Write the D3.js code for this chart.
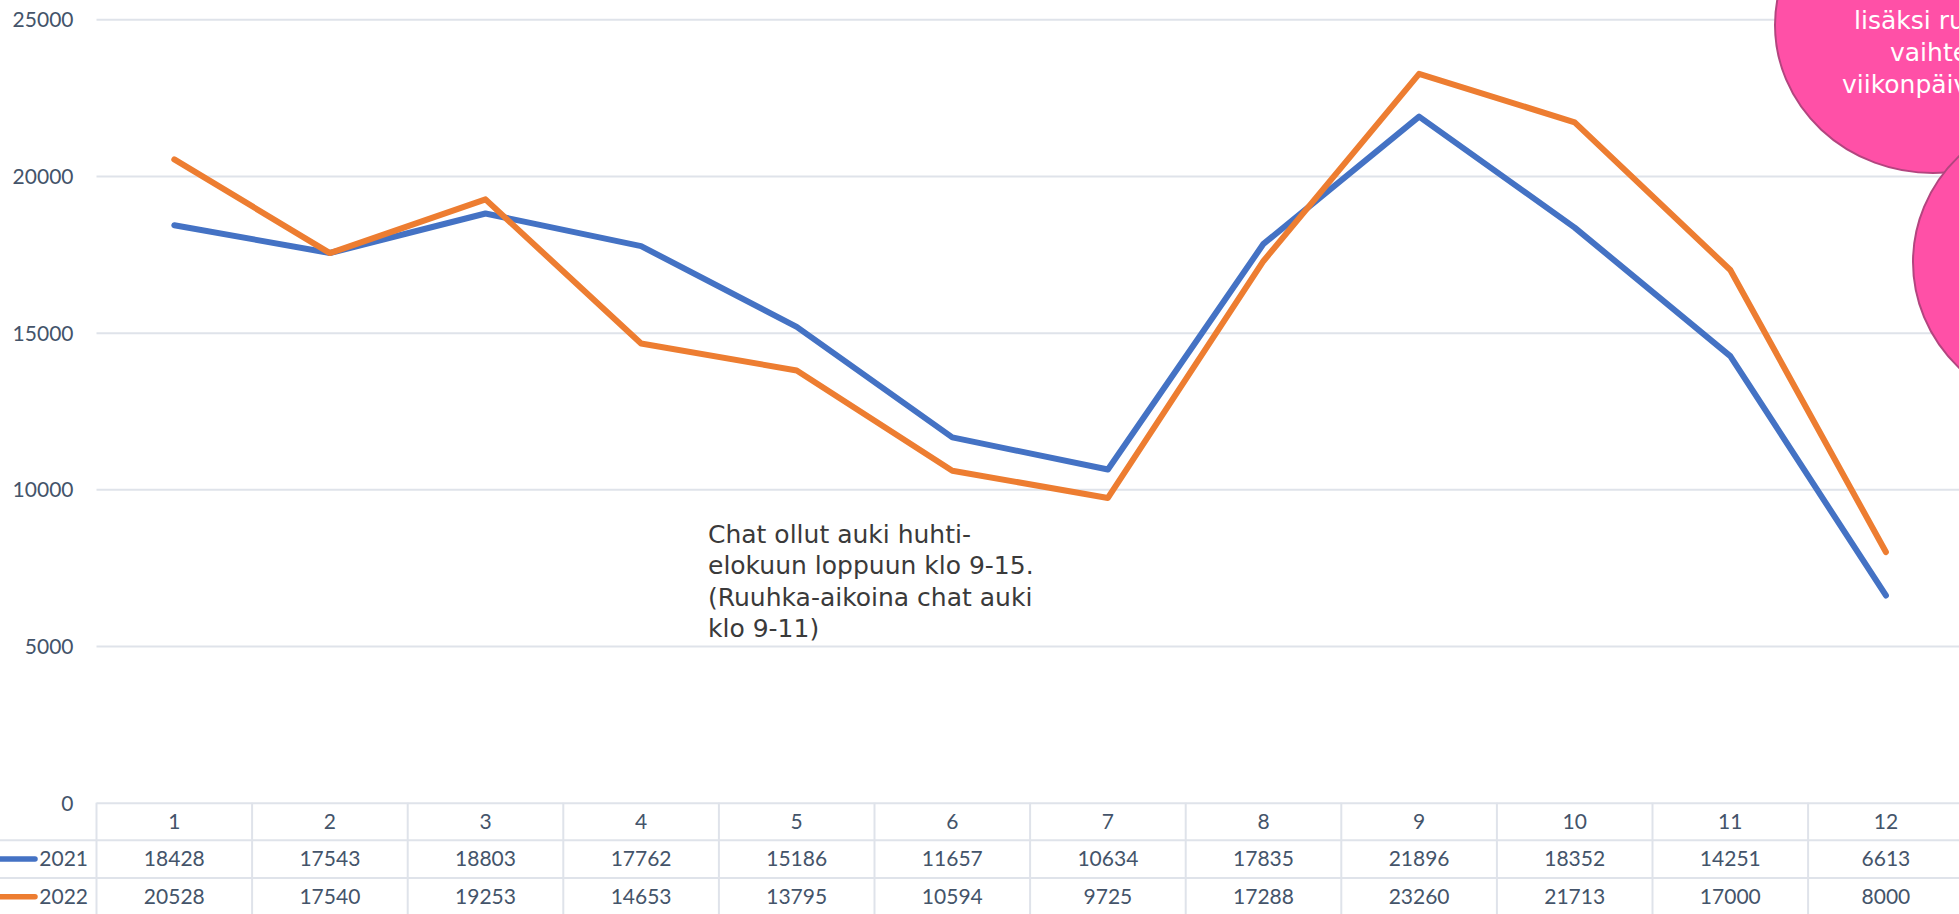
<!DOCTYPE html>
<html>
<head>
<meta charset="utf-8">
<script src="https://cdn.jsdelivr.net/npm/d3@7"></script>
<style>
  body { margin: 0; background: #fff; }
  svg { display: block; }
  .tick text, .cell-text, .legend-text { font-family: Lato, "Noto Sans", sans-serif; font-size: 21px; fill: #44546A; }
  .note { font-family: "DejaVu Sans", sans-serif; font-size: 25px; }
</style>
</head>
<body>
<svg id="chart" width="1959" height="914"></svg>
<script>
var months = ['1', '2', '3', '4', '5', '6', '7', '8', '9', '10', '11', '12'];
var values2021 = [18428, 17543, 18803, 17762, 15186, 11657, 10634, 17835, 21896, 18352, 14251, 6613];
var values2022 = [20528, 17540, 19253, 14653, 13795, 10594, 9725, 17288, 23260, 21713, 17000, 8000];
var seriesNames = ['2021', '2022'];
var yTicks = [0, 5000, 10000, 15000, 20000, 25000];
var noteLines = ['Chat ollut auki huhti-', 'elokuun loppuun klo 9-15.', '(Ruuhka-aikoina chat auki', 'klo 9-11)'];
var bubbleLines = ['lisäksi ruuhka-', 'vaihtelee', 'viikonpäivittäin'];

var colors = ['#4472C4', '#ED7D31'];
var gridColor = '#dfe3ea';

function drawChart() {
    var svg = d3.select('#chart');
    var W = 1959, H = 914;
    var plotLeft = 96.5, colW = 155.6;
    var plotTop = 19.3, zeroY = 802.7;
    var rowH = 37.6;

    var x = d3.scaleBand()
        .domain(months)
        .range([plotLeft, plotLeft + colW * months.length]);
    var y = d3.scaleLinear()
        .domain([0, 25000])
        .range([zeroY, plotTop]);

    // gridlines + labels
    var yAxis = svg.append('g')
        .attr('transform', `translate(${plotLeft},0)`)
        .call(d3.axisLeft(y).tickValues(yTicks).tickSize(-(W - plotLeft)).tickPadding(23).tickFormat(d => d));
    yAxis.select('.domain').remove();
    yAxis.selectAll('.tick line').attr('stroke', gridColor).attr('stroke-width', 2);
    yAxis.selectAll('.tick text').attr('dy', '0.35em');

    // data table
    var table = svg.append('g');
    var rows = [months, values2021, values2022];
    for (let r = 1; r <= 2; r++) {
        table.append('line')
            .attr('x1', 0).attr('x2', W)
            .attr('y1', zeroY + r * rowH).attr('y2', zeroY + r * rowH)
            .attr('stroke', gridColor).attr('stroke-width', 2);
    }
    table.selectAll(null)
        .data(months)
        .enter()
        .append('line')
        .attr('x1', d => x(d) + colW).attr('x2', d => x(d) + colW)
        .attr('y1', zeroY).attr('y2', H)
        .attr('stroke', gridColor).attr('stroke-width', 2);
    table.append('line')
        .attr('x1', plotLeft).attr('x2', plotLeft)
        .attr('y1', zeroY).attr('y2', H)
        .attr('stroke', gridColor).attr('stroke-width', 2);

    rows.forEach((row, r) => {
        table.selectAll(null)
            .data(row)
            .enter()
            .append('text')
            .classed('cell-text', true)
            .attr('x', (d, i) => x(months[i]) + x.bandwidth() / 2)
            .attr('y', zeroY + r * rowH + rowH / 2)
            .attr('dy', '0.35em')
            .attr('text-anchor', 'middle')
            .text(d => d);
    });

    // legend keys in the table
    seriesNames.forEach((name, i) => {
        var cy = zeroY + (i + 1) * rowH + rowH / 2;
        table.append('line')
            .attr('x1', -10).attr('x2', 35)
            .attr('y1', cy).attr('y2', cy)
            .attr('stroke', colors[i]).attr('stroke-width', 5.5)
            .attr('stroke-linecap', 'round');
        table.append('text')
            .classed('legend-text', true)
            .attr('x', 88)
            .attr('y', cy)
            .attr('dy', '0.35em')
            .attr('text-anchor', 'end')
            .text(name);
    });

    // lines
    var line = d3.line()
        .x((d, i) => x(months[i]) + x.bandwidth() / 2)
        .y(d => y(d));

    [values2021, values2022].forEach((vals, i) => {
        svg.append('path')
            .datum(vals)
            .attr('fill', 'none')
            .attr('stroke', colors[i])
            .attr('stroke-width', 6)
            .attr('stroke-linejoin', 'round')
            .attr('stroke-linecap', 'round')
            .attr('d', line);
    });

    // annotation text
    svg.append('text')
        .classed('note', true)
        .attr('fill', '#3a3a3a')
        .selectAll('tspan')
        .data(noteLines)
        .enter()
        .append('tspan')
        .attr('x', 708)
        .attr('y', (d, i) => 543 + i * 31.4)
        .text(d => d);

    // pink bubbles on the right
    svg.append('ellipse')
        .attr('cx', 1933).attr('cy', 25)
        .attr('rx', 158).attr('ry', 148)
        .attr('fill', '#FF50A7').attr('stroke', '#B3457F').attr('stroke-width', 2);
    svg.append('ellipse')
        .attr('cx', 2071).attr('cy', 262)
        .attr('rx', 158).attr('ry', 150)
        .attr('fill', '#FF50A7').attr('stroke', '#B3457F').attr('stroke-width', 2);

    var bubbleX = [1854, 1890, 1842];
    svg.append('text')
        .classed('note', true)
        .attr('fill', '#fff')
        .selectAll('tspan')
        .data(bubbleLines)
        .enter()
        .append('tspan')
        .attr('x', (d, i) => bubbleX[i])
        .attr('y', (d, i) => 29 + i * 32)
        .text(d => d);
}

drawChart();
</script>
</body>
</html>
